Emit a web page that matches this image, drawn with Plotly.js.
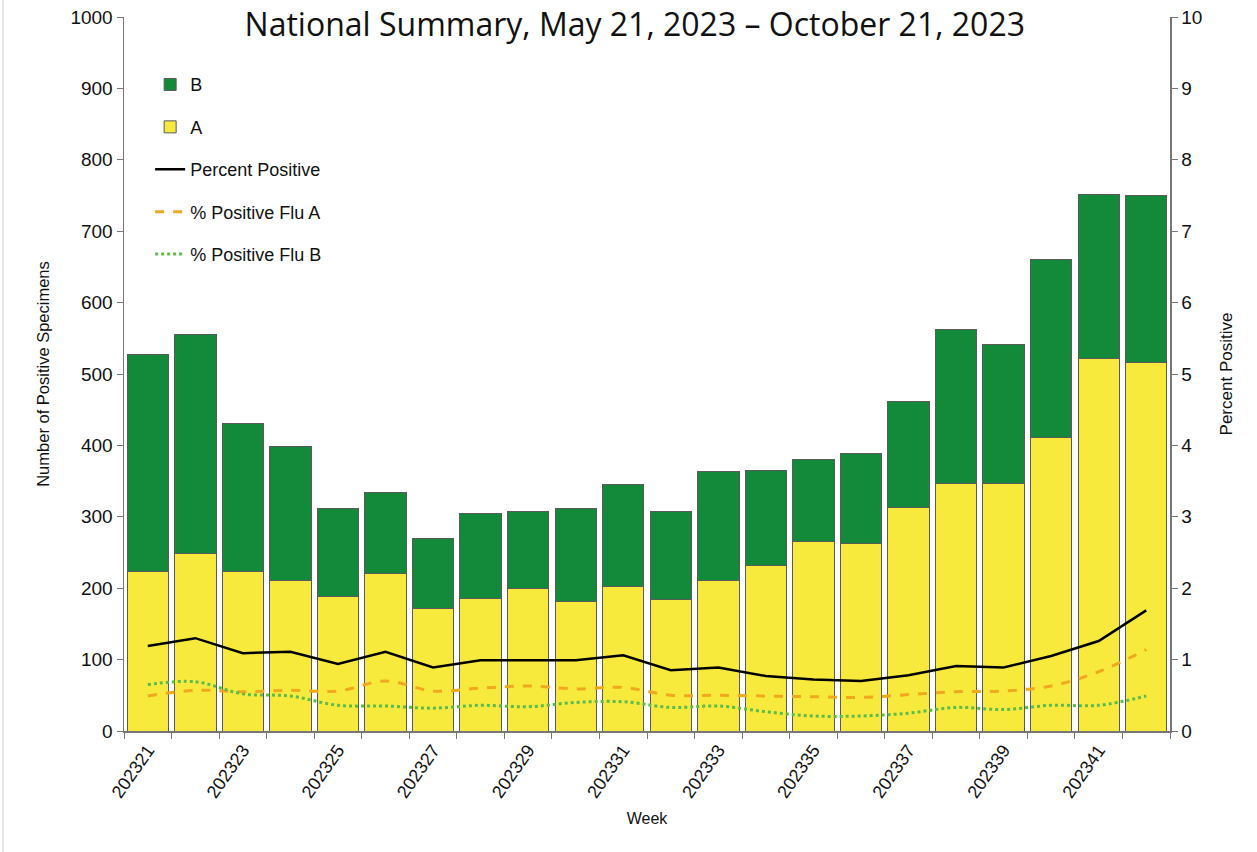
<!DOCTYPE html>
<html>
<head>
<meta charset="utf-8">
<script src="https://cdn.plot.ly/plotly-3.0.1.min.js"></script>
<style>
html,body{margin:0;padding:0;background:#fff;}
#chart{width:1257px;height:852px;}
</style>
</head>
<body>
<div id="chart"></div>
<script>
const weeks = ["202321","202322","202323","202324","202325","202326","202327","202328","202329","202330","202331","202332","202333","202334","202335","202336","202337","202338","202339","202340","202341","202342"];
const fluA = [224,249,223,211,189,221,171,186,200,182,203,184,211,232,265,262,313,346,347,411,522,516];
const totals = [527,555,431,398,311,334,269,305,308,311,345,308,363,365,380,388,462,563,541,660,751,750];
const fluB = totals.map((t,i)=>t-fluA[i]);
const pctPos = [1.19,1.30,1.09,1.11,0.94,1.11,0.89,0.99,0.99,0.99,1.06,0.85,0.89,0.77,0.72,0.70,0.78,0.91,0.89,1.05,1.26,1.69];
const pctA = [0.49,0.57,0.55,0.57,0.56,0.70,0.56,0.60,0.63,0.59,0.61,0.50,0.50,0.49,0.48,0.47,0.51,0.55,0.56,0.63,0.83,1.14];
const pctB = [0.65,0.69,0.52,0.49,0.36,0.35,0.32,0.36,0.34,0.40,0.41,0.33,0.35,0.27,0.21,0.21,0.25,0.33,0.30,0.36,0.36,0.49];
const tickLabels = weeks.map((w,i)=> i%2===0 ? w : "");

const font = "Liberation Sans, Arial, sans-serif";
const barLine = {color:"#5a5a5a", width:1};

const traces = [
  {type:"bar", name:"A", x:weeks, y:fluA, marker:{color:"#F8EA3C", line:barLine}, legendrank:2, legendgroup:"g2"},
  {type:"bar", name:"B", x:weeks, y:fluB, marker:{color:"#138A39", line:barLine}, legendrank:1, legendgroup:"g1"},
  {type:"scatter", mode:"lines", name:"Percent Positive", x:weeks, y:pctPos, yaxis:"y2", line:{color:"#000", width:2.5}, legendrank:3, legendgroup:"g3"},
  {type:"scatter", mode:"lines", name:"% Positive Flu A", x:weeks, y:pctA, yaxis:"y2", line:{color:"#F0A81E", width:3, dash:"dash", shape:"spline"}, legendrank:4, legendgroup:"g4"},
  {type:"scatter", mode:"lines", name:"% Positive Flu B", x:weeks, y:pctB, yaxis:"y2", line:{color:"#5DBB4A", width:3, dash:"dot", shape:"spline"}, legendrank:5, legendgroup:"g5"}
];

const layout = {
  width:1257, height:852,
  margin:{l:124, r:87, t:17, b:121},
  paper_bgcolor:"#fff", plot_bgcolor:"#fff",
  barmode:"stack", bargap:0.13,
  showlegend:true,
  title:{text:"National Summary, May 21, 2023 \u2013 October 21, 2023", font:{family:"Open Sans, Noto Sans, sans-serif", size:32, color:"#111"}, x:0.505, xanchor:"center", yref:"container", y:0.984, yanchor:"top", pad:{t:0,b:0}},
  legend:{x:0.025, y:0.931, xanchor:"left", yanchor:"top", font:{family:font, size:18, color:"#111"}, bgcolor:"rgba(0,0,0,0)", tracegroupgap:16, itemwidth:30},
  xaxis:{type:"category", tickmode:"array", tickvals:weeks, ticktext:tickLabels, tickangle:-55, tickson:"boundaries", ticks:"outside", ticklen:6, tickcolor:"#777", showline:true, linecolor:"#777", linewidth:1.5, showgrid:false, tickfont:{family:font, size:18, color:"#111"}, title:{text:"Week", font:{family:font, size:16, color:"#111"}, standoff:12}},
  yaxis:{range:[0,1000], dtick:100, ticks:"outside", ticklen:6, tickcolor:"#777", showline:true, linecolor:"#777", linewidth:1.5, showgrid:false, zeroline:false, tickfont:{family:font, size:19, color:"#111"}, title:{text:"Number of Positive Specimens", font:{family:font, size:16.5, color:"#111"}, standoff:16}},
  yaxis2:{overlaying:"y", side:"right", range:[0,10], dtick:1, ticks:"outside", ticklen:6, tickcolor:"#777", showline:true, linecolor:"#777", linewidth:1.5, showgrid:false, zeroline:false, tickfont:{family:font, size:19, color:"#111"}, title:{text:"Percent Positive", font:{family:font, size:17, color:"#111"}, standoff:18}},
  shapes:[{type:"line", xref:"paper", yref:"paper", x0:-0.1157, x1:-0.1157, y0:-0.17, y1:1.03, line:{color:"#ccc", width:1}}]
};

Plotly.newPlot("chart", traces, layout, {displayModeBar:false, staticPlot:true});
</script>
</body>
</html>
